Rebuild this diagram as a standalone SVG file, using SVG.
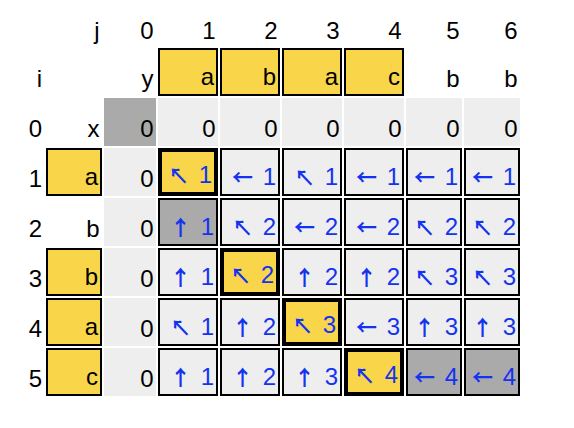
<svg xmlns="http://www.w3.org/2000/svg" width="574" height="428" viewBox="0 0 574 428">
<style>
text{font-family:"Liberation Sans","DejaVu Sans",sans-serif;font-size:24px;text-anchor:end;fill:#000}
.bl{fill:#1433f0;word-spacing:3px}
.ar{font-family:"Noto Sans CJK JP","Noto Sans CJK SC","DejaVu Sans",sans-serif;font-size:21px;font-weight:700}
.pl{fill:#eeeeee}
.dk{fill:#aaaaaa}
.c{fill:#eeeeee;stroke:#000;stroke-width:2}
.cg{fill:#aaaaaa;stroke:#000;stroke-width:2}
.yb{fill:#f9d54a;stroke:#000;stroke-width:2}
.th{fill:#f9d54a;stroke:#000;stroke-width:4}
</style>
<rect width="574" height="428" fill="#fff"/>
<g id="header-j">
<text x="99.5" y="39">j</text><text x="153.5" y="39">0</text><text x="215.5" y="39">1</text><text x="277.5" y="39">2</text><text x="339.5" y="39">3</text><text x="401.5" y="39">4</text><text x="459.5" y="39">5</text><text x="517.5" y="39">6</text>
</g>
<g id="header-y">
<text x="42" y="87">i</text>
<text x="153.5" y="87">y</text>
<g id="y1"><rect class="yb" x="159" y="49" width="58" height="46"/><text x="214" y="85">a</text></g>
<g id="y2"><rect class="yb" x="221" y="49" width="58" height="46"/><text x="276" y="85">b</text></g>
<g id="y3"><rect class="yb" x="283" y="49" width="58" height="46"/><text x="338" y="85">a</text></g>
<g id="y4"><rect class="yb" x="345" y="49" width="58" height="46"/><text x="400" y="85">c</text></g>
<g id="y5"><text x="459.5" y="87">b</text></g>
<g id="y6"><text x="517.5" y="87">b</text></g>
</g>
<g id="row0">
<text x="42" y="137">0</text><text x="99.5" y="137">x</text>
<g id="c0-0"><rect class="dk" x="104" y="98" width="52" height="48"/><text x="153.5" y="137">0</text></g>
<g id="c0-1"><rect class="pl" x="158" y="98" width="60" height="48"/><text x="215.5" y="137">0</text></g>
<g id="c0-2"><rect class="pl" x="220" y="98" width="60" height="48"/><text x="277.5" y="137">0</text></g>
<g id="c0-3"><rect class="pl" x="282" y="98" width="60" height="48"/><text x="339.5" y="137">0</text></g>
<g id="c0-4"><rect class="pl" x="344" y="98" width="60" height="48"/><text x="401.5" y="137">0</text></g>
<g id="c0-5"><rect class="pl" x="406" y="98" width="56" height="48"/><text x="459.5" y="137">0</text></g>
<g id="c0-6"><rect class="pl" x="464" y="98" width="56" height="48"/><text x="517.5" y="137">0</text></g>
</g>
<g id="row1">
<text x="42" y="187">1</text>
<g id="x1"><rect class="yb" x="47" y="149" width="54" height="46"/><text x="98" y="185">a</text></g>
<g id="c1-0"><rect class="pl" x="104" y="148" width="52" height="48"/><text x="153.5" y="187">0</text></g>
<g id="c1-1"><rect class="th" x="160" y="150" width="56" height="44"/><text class="bl" x="212" y="183"><tspan class="ar">↖</tspan> 1</text></g>
<g id="c1-2"><rect class="c" x="221" y="149" width="58" height="46"/><text class="bl" x="276" y="185"><tspan class="ar">←</tspan> 1</text></g>
<g id="c1-3"><rect class="c" x="283" y="149" width="58" height="46"/><text class="bl" x="338" y="185"><tspan class="ar">↖</tspan> 1</text></g>
<g id="c1-4"><rect class="c" x="345" y="149" width="58" height="46"/><text class="bl" x="400" y="185"><tspan class="ar">←</tspan> 1</text></g>
<g id="c1-5"><rect class="c" x="407" y="149" width="54" height="46"/><text class="bl" x="458" y="185"><tspan class="ar">←</tspan> 1</text></g>
<g id="c1-6"><rect class="c" x="465" y="149" width="54" height="46"/><text class="bl" x="516" y="185"><tspan class="ar">←</tspan> 1</text></g>
</g>
<g id="row2">
<text x="42" y="237">2</text>
<g id="x2"><text x="99.5" y="237">b</text></g>
<g id="c2-0"><rect class="pl" x="104" y="198" width="52" height="48"/><text x="153.5" y="237">0</text></g>
<g id="c2-1"><rect class="cg" x="159" y="199" width="58" height="46"/><text class="bl" x="214" y="235"><tspan class="ar">↑</tspan> 1</text></g>
<g id="c2-2"><rect class="c" x="221" y="199" width="58" height="46"/><text class="bl" x="276" y="235"><tspan class="ar">↖</tspan> 2</text></g>
<g id="c2-3"><rect class="c" x="283" y="199" width="58" height="46"/><text class="bl" x="338" y="235"><tspan class="ar">←</tspan> 2</text></g>
<g id="c2-4"><rect class="c" x="345" y="199" width="58" height="46"/><text class="bl" x="400" y="235"><tspan class="ar">←</tspan> 2</text></g>
<g id="c2-5"><rect class="c" x="407" y="199" width="54" height="46"/><text class="bl" x="458" y="235"><tspan class="ar">↖</tspan> 2</text></g>
<g id="c2-6"><rect class="c" x="465" y="199" width="54" height="46"/><text class="bl" x="516" y="235"><tspan class="ar">↖</tspan> 2</text></g>
</g>
<g id="row3">
<text x="42" y="287">3</text>
<g id="x3"><rect class="yb" x="47" y="249" width="54" height="46"/><text x="98" y="285">b</text></g>
<g id="c3-0"><rect class="pl" x="104" y="248" width="52" height="48"/><text x="153.5" y="287">0</text></g>
<g id="c3-1"><rect class="c" x="159" y="249" width="58" height="46"/><text class="bl" x="214" y="285"><tspan class="ar">↑</tspan> 1</text></g>
<g id="c3-2"><rect class="th" x="222" y="250" width="56" height="44"/><text class="bl" x="274" y="283"><tspan class="ar">↖</tspan> 2</text></g>
<g id="c3-3"><rect class="c" x="283" y="249" width="58" height="46"/><text class="bl" x="338" y="285"><tspan class="ar">↑</tspan> 2</text></g>
<g id="c3-4"><rect class="c" x="345" y="249" width="58" height="46"/><text class="bl" x="400" y="285"><tspan class="ar">↑</tspan> 2</text></g>
<g id="c3-5"><rect class="c" x="407" y="249" width="54" height="46"/><text class="bl" x="458" y="285"><tspan class="ar">↖</tspan> 3</text></g>
<g id="c3-6"><rect class="c" x="465" y="249" width="54" height="46"/><text class="bl" x="516" y="285"><tspan class="ar">↖</tspan> 3</text></g>
</g>
<g id="row4">
<text x="42" y="337">4</text>
<g id="x4"><rect class="yb" x="47" y="299" width="54" height="46"/><text x="98" y="335">a</text></g>
<g id="c4-0"><rect class="pl" x="104" y="298" width="52" height="48"/><text x="153.5" y="337">0</text></g>
<g id="c4-1"><rect class="c" x="159" y="299" width="58" height="46"/><text class="bl" x="214" y="335"><tspan class="ar">↖</tspan> 1</text></g>
<g id="c4-2"><rect class="c" x="221" y="299" width="58" height="46"/><text class="bl" x="276" y="335"><tspan class="ar">↑</tspan> 2</text></g>
<g id="c4-3"><rect class="th" x="284" y="300" width="56" height="44"/><text class="bl" x="336" y="333"><tspan class="ar">↖</tspan> 3</text></g>
<g id="c4-4"><rect class="c" x="345" y="299" width="58" height="46"/><text class="bl" x="400" y="335"><tspan class="ar">←</tspan> 3</text></g>
<g id="c4-5"><rect class="c" x="407" y="299" width="54" height="46"/><text class="bl" x="458" y="335"><tspan class="ar">↑</tspan> 3</text></g>
<g id="c4-6"><rect class="c" x="465" y="299" width="54" height="46"/><text class="bl" x="516" y="335"><tspan class="ar">↑</tspan> 3</text></g>
</g>
<g id="row5">
<text x="42" y="387">5</text>
<g id="x5"><rect class="yb" x="47" y="349" width="54" height="46"/><text x="98" y="385">c</text></g>
<g id="c5-0"><rect class="pl" x="104" y="348" width="52" height="48"/><text x="153.5" y="387">0</text></g>
<g id="c5-1"><rect class="c" x="159" y="349" width="58" height="46"/><text class="bl" x="214" y="385"><tspan class="ar">↑</tspan> 1</text></g>
<g id="c5-2"><rect class="c" x="221" y="349" width="58" height="46"/><text class="bl" x="276" y="385"><tspan class="ar">↑</tspan> 2</text></g>
<g id="c5-3"><rect class="c" x="283" y="349" width="58" height="46"/><text class="bl" x="338" y="385"><tspan class="ar">↑</tspan> 3</text></g>
<g id="c5-4"><rect class="th" x="346" y="350" width="56" height="44"/><text class="bl" x="398" y="383"><tspan class="ar">↖</tspan> 4</text></g>
<g id="c5-5"><rect class="cg" x="407" y="349" width="54" height="46"/><text class="bl" x="458" y="385"><tspan class="ar">←</tspan> 4</text></g>
<g id="c5-6"><rect class="cg" x="465" y="349" width="54" height="46"/><text class="bl" x="516" y="385"><tspan class="ar">←</tspan> 4</text></g>
</g>
<g id="connectors"/>
</svg>
